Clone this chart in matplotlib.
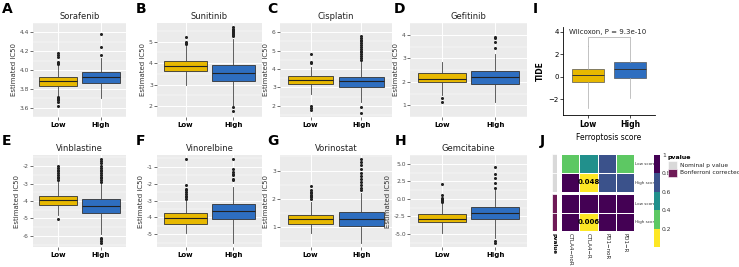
import numpy as np
import matplotlib
matplotlib.use("Agg")
import matplotlib.pyplot as plt
from matplotlib.colors import ListedColormap, BoundaryNorm
from matplotlib.patches import Rectangle
from matplotlib.cm import ScalarMappable

# --- data: estimated IC50 box stats (Low / High ferroptosis score) ---
drugs = ["Sorafenib", "Sunitinib", "Cisplatin", "Gefitinib",
         "Vinblastine", "Vinorelbine", "Vorinostat", "Gemcitabine"]
letters = ["A", "B", "C", "D", "E", "F", "G", "H"]

low_whislo = [3.72, 3.0, 2.65, 1.45, -4.8, -4.9, 0.8, -4.8]
low_q1 = [3.834, 3.65, 3.2, 1.97, -4.24, -4.37, 1.1, -3.35]
low_med = [3.885, 3.88, 3.42, 2.13, -3.94, -4.04, 1.28, -2.8]
low_q3 = [3.925, 4.1, 3.62, 2.39, -3.7, -3.71, 1.43, -2.13]
low_whishi = [4.05, 4.8, 4.1, 2.85, -2.9, -3.05, 1.9, -0.6]
low_out = [
    [4.06, 4.07, 4.08, 4.14, 4.16, 4.18, 3.71, 3.70, 3.69, 3.68, 3.66, 3.62],
    [4.9, 4.95, 5.0, 5.2],
    [4.3, 4.4, 4.8, 2.0, 1.9, 1.75],
    [1.3, 1.12],
    [-2.8, -2.7, -2.6, -2.5, -2.4, -2.3, -2.2, -2.1, -2.0, -5.05],
    [-2.9, -2.8, -2.7, -2.6, -2.5, -2.4, -2.3, -2.1, -0.55],
    [2.0, 2.05, 2.1, 2.15, 2.2, 2.25, 2.3, 2.45],
    [-0.5, -0.3, -0.1, 0.0, 0.2, 0.6, 2.1],
]

high_whislo = [3.70, 2.0, 2.2, 1.15, -5.9, -5.5, 0.45, -5.5]
high_q1 = [3.861, 3.19, 3.03, 1.91, -4.7, -4.1, 1.04, -2.9]
high_med = [3.921, 3.54, 3.33, 2.2, -4.3, -3.62, 1.28, -2.05]
high_q3 = [3.975, 3.92, 3.58, 2.45, -3.9, -3.23, 1.52, -1.1]
high_whishi = [4.13, 5.1, 4.4, 3.2, -3.0, -2.2, 2.2, 1.3]
high_out = [
    [4.16, 4.24, 4.38],
    [5.25, 5.3, 5.35, 5.4, 5.45, 5.5, 5.55, 5.6, 5.67, 1.95, 1.8],
    [4.5, 4.6, 4.7, 4.8, 4.9, 5.0, 5.1, 5.2, 5.3, 5.4, 5.5, 5.6, 5.7, 5.8, 1.95, 1.6],
    [3.42, 3.7, 3.85, 3.92],
    [-2.9, -2.8, -2.7, -2.6, -2.5, -2.4, -2.3, -2.2, -2.1, -2.0, -1.8, -1.7, -1.6,
     -6.1, -6.2, -6.3, -6.4],
    [-1.8, -1.7, -1.5, -1.4, -1.3, -1.15, -0.55],
    [2.3, 2.4, 2.5, 2.6, 2.7, 2.8, 2.9, 3.05, 3.2, 3.3, 3.4],
    [1.6, 2.3, 3.0, 3.5, 4.6, -6.0, -6.3],
]

y_ticks = [
    [3.6, 3.8, 4.0, 4.2, 4.4],
    [2, 3, 4, 5],
    [2, 3, 4, 5, 6],
    [1, 2, 3, 4],
    [-6, -5, -4, -3, -2],
    [-5, -4, -3, -2, -1],
    [1, 2, 3],
    [-5.0, -2.5, 0.0, 2.5, 5.0],
]
y_ticklabels = [
    ["3.6", "3.8", "4.0", "4.2", "4.4"],
    ["2", "3", "4", "5"],
    ["2", "3", "4", "5", "6"],
    ["1", "2", "3", "4"],
    ["-6", "-5", "-4", "-3", "-2"],
    ["-5", "-4", "-3", "-2", "-1"],
    ["1", "2", "3"],
    ["-5.0", "-2.5", "0.0", "2.5", "5.0"],
]
groups = ["Low", "High"]

# TIDE box stats: whislo, q1, med, q3, whishi
tide_low = [-2.75, -0.5, 0.15, 0.65, 2.75]
tide_high = [-1.9, -0.15, 0.7, 1.28, 3.5]
tide_p = "Wilcoxon, P = 9.3e-10"

# heatmap (p values)
hm_cols = ["CTLA4\u2212noR", "CTLA4\u2212R", "PD1\u2212noR", "PD1\u2212R"]
hm_rows = ["Low score", "High score"]
nominal_low = [0.3, 0.5, 0.7, 0.3]
nominal_high = [0.9, 0.048, 0.7, 0.7]
bonf_low = [1.0, 1.0, 1.0, 1.0]
bonf_high = [1.0, 0.006, 1.0, 1.0]

YELLOW = "#E7B800"
BLUE = "#2E6EC0"

W, H = 739, 267
fig = plt.figure(figsize=(W / 100, H / 100), dpi=100)


def px(l, t, r, b):
    return [l / W, 1 - b / H, (r - l) / W, (b - t) / H]


def stats(lo, q1, med, q3, hi, out=()):
    return {"whislo": lo, "q1": q1, "med": med, "q3": q3, "whishi": hi, "fliers": list(out)}


def box_panel(rect, i):
    ax = fig.add_axes(px(*rect))
    ax.set_facecolor("#EBEBEB")
    st = [stats(low_whislo[i], low_q1[i], low_med[i], low_q3[i], low_whishi[i], low_out[i]),
          stats(high_whislo[i], high_q1[i], high_med[i], high_q3[i], high_whishi[i], high_out[i])]
    bp = ax.bxp(st, positions=[1, 2], widths=0.9, patch_artist=True, showcaps=False,
                boxprops=dict(edgecolor="#333333", linewidth=0.6),
                medianprops=dict(color="#222222", linewidth=0.8),
                whiskerprops=dict(color="#444444", linewidth=0.6),
                flierprops=dict(marker="o", markersize=2.2, markerfacecolor="#222222",
                                markeredgecolor="none"))
    for patch, c in zip(bp["boxes"], [YELLOW, BLUE]):
        patch.set_facecolor(c)
    allv = [low_whislo[i], high_whislo[i], low_whishi[i], high_whishi[i]] + low_out[i] + high_out[i]
    lo, hi = min(allv), max(allv)
    pad = 0.05 * (hi - lo)
    ax.set_ylim(lo - pad, hi + pad)
    ax.set_xlim(0.4, 2.6)
    t = y_ticks[i]
    ax.set_yticks(t)
    ax.set_yticklabels(y_ticklabels[i])
    step = t[1] - t[0]
    ax.set_yticks([v + step / 2 for v in [t[0] - step] + t], minor=True)
    ax.set_xticks([1, 2])
    ax.set_xticklabels(groups, fontsize=5, fontweight="bold")
    ax.set_axisbelow(True)
    ax.grid(which="major", color="white", linewidth=0.7)
    ax.grid(which="minor", axis="y", color="white", linewidth=0.35)
    for s in ax.spines.values():
        s.set_visible(False)
    ax.tick_params(axis="y", which="major", length=2, width=0.5, color="#333333",
                   labelsize=4.3, labelcolor="#4D4D4D", pad=1)
    ax.tick_params(axis="x", length=2, width=0.5, color="#333333", pad=1.5)
    ax.tick_params(which="minor", length=0)
    ax.set_ylabel("Estimated IC50", fontsize=5, color="#333333", labelpad=2)
    ax.set_title(drugs[i], fontsize=6, color="#222222", pad=3)
    return ax


cols = [(33, 126), (157, 262), (280, 392), (410, 527)]
rows = [(23, 117), (155, 247)]
letter_pos = [(2, 9), (136, 9), (267, 9), (394, 9),
              (2, 141), (136, 141), (267, 141), (395, 141)]
for i in range(8):
    r, c = divmod(i, 4)
    box_panel((cols[c][0], rows[r][0], cols[c][1], rows[r][1]), i)
    fig.text(letter_pos[i][0] / W, 1 - letter_pos[i][1] / H, letters[i],
             fontsize=10, fontweight="bold", va="center", ha="left")

# --- I: TIDE ---
axi = fig.add_axes(px(563, 27, 655, 115))
bp = axi.bxp([stats(*tide_low), stats(*tide_high)], positions=[1, 2], widths=0.75,
             patch_artist=True, showcaps=False, showfliers=False,
             boxprops=dict(edgecolor="#555555", linewidth=0.5),
             medianprops=dict(color="#333333", linewidth=0.7),
             whiskerprops=dict(color="#AAAAAA", linewidth=0.5))
for patch, c in zip(bp["boxes"], [YELLOW, BLUE]):
    patch.set_facecolor(c)
axi.set_xlim(0.4, 2.6)
axi.set_ylim(-3.4, 4.4)
axi.set_yticks([-2, 0, 2, 4])
axi.set_xticks([1, 2])
axi.set_xticklabels(groups, fontsize=5.5, fontweight="bold")
axi.tick_params(axis="y", labelsize=5, length=2, width=0.5, pad=1)
axi.tick_params(axis="x", length=2, width=0.5, pad=1.5)
for s in ["top", "right"]:
    axi.spines[s].set_visible(False)
for s in ["left", "bottom"]:
    axi.spines[s].set_linewidth(0.6)
axi.set_ylabel("TIDE", fontsize=5.5, fontweight="bold", labelpad=3)
axi.set_xlabel("Ferroptosis score", fontsize=5.5, labelpad=3)
yb = tide_high[4] + 0.05
axi.plot([1, 1, 2, 2], [tide_low[4], yb, yb, tide_high[4]], color="#AAAAAA", lw=0.5)
axi.text(0.55, 3.95, tide_p, fontsize=5, va="center", ha="left", color="#222222")
fig.text(533 / W, 1 - 9 / H, "I", fontsize=10, fontweight="bold", va="center", ha="left")

# --- J: heatmap ---
cmap = ListedColormap(["#FDE725", "#5DC863", "#21908C", "#3B528B", "#440154"])
norm = BoundaryNorm([0, 0.2, 0.4, 0.6, 0.8, 1.0001], cmap.N)


def hm_axes(rect, low, high, show_cols):
    ax = fig.add_axes(px(*rect))
    data = np.array([low, high])
    ax.pcolormesh(data, cmap=cmap, norm=norm, edgecolors="white", linewidth=0.6)
    ax.set_xlim(0, 4)
    ax.set_ylim(2, 0)
    for s in ax.spines.values():
        s.set_visible(False)
    for r in range(2):
        for c in range(4):
            if data[r, c] < 0.05:
                ax.text(c + 0.5, r + 0.5, f"{data[r, c]:.3f}", fontsize=5,
                        fontweight="bold", ha="center", va="center")
    ax.yaxis.tick_right()
    ax.set_yticks([0.5, 1.5])
    ax.set_yticklabels(hm_rows, fontsize=3, color="#333333")
    ax.tick_params(length=0, pad=1)
    if show_cols:
        ax.set_xticks([0.5, 1.5, 2.5, 3.5])
        ax.set_xticklabels(hm_cols, rotation=270, fontsize=4, va="top", color="#222222")
        ax.tick_params(axis="x", pad=1.5)
    else:
        ax.set_xticks([])
    return ax


hm_axes((561, 154, 634, 192), nominal_low, nominal_high, False)
hm_axes((561, 194, 634, 231), bonf_low, bonf_high, True)

for (t, b), c, lab in [((154, 192), "#D9D9D9", False), ((194, 231), "#6E1A56", True)]:
    axa = fig.add_axes(px(552, t, 557, b))
    axa.add_patch(Rectangle((0, 0), 1, 1, facecolor=c, edgecolor="white", lw=0.5))
    axa.plot([0, 1], [0.5, 0.5], color="white", lw=0.6)
    axa.set_xlim(0, 1)
    axa.set_ylim(0, 1)
    for s in axa.spines.values():
        s.set_visible(False)
    axa.set_yticks([])
    if lab:
        axa.set_xticks([0.5])
        axa.set_xticklabels(["pvalue"], rotation=270, fontsize=4, fontweight="bold", va="top")
        axa.tick_params(length=0, pad=1.5)
    else:
        axa.set_xticks([])

cax = fig.add_axes(px(654, 155, 660, 247))
cb = fig.colorbar(ScalarMappable(norm=plt.Normalize(0, 1), cmap=cmap), cax=cax)
cb.outline.set_visible(False)
cb.set_ticks([0.2, 0.4, 0.6, 0.8, 1.0])
cb.set_ticklabels(["0.2", "0.4", "0.6", "0.8", "1"])
cax.tick_params(length=0, labelsize=4.3, labelcolor="#333333", pad=1.5)

fig.text(668 / W, 1 - 157 / H, "pvalue", fontsize=4.5, fontweight="bold", va="center")
for y0, c, lab in [(161, "#D9D9D9", "Nominal p value"), (169, "#6E1A56", "Bonferroni corrected")]:
    fig.patches.append(Rectangle((668 / W, 1 - (y0 + 8) / H), 9 / W, 8 / H,
                                 facecolor=c, edgecolor="white", lw=0.4,
                                 transform=fig.transFigure, figure=fig))
    fig.text(680 / W, 1 - (y0 + 4) / H, lab, fontsize=4.2, va="center", color="#222222")

fig.text(540 / W, 1 - 141 / H, "J", fontsize=10, fontweight="bold", va="center", ha="left")

fig.savefig("out.png", dpi=100)
